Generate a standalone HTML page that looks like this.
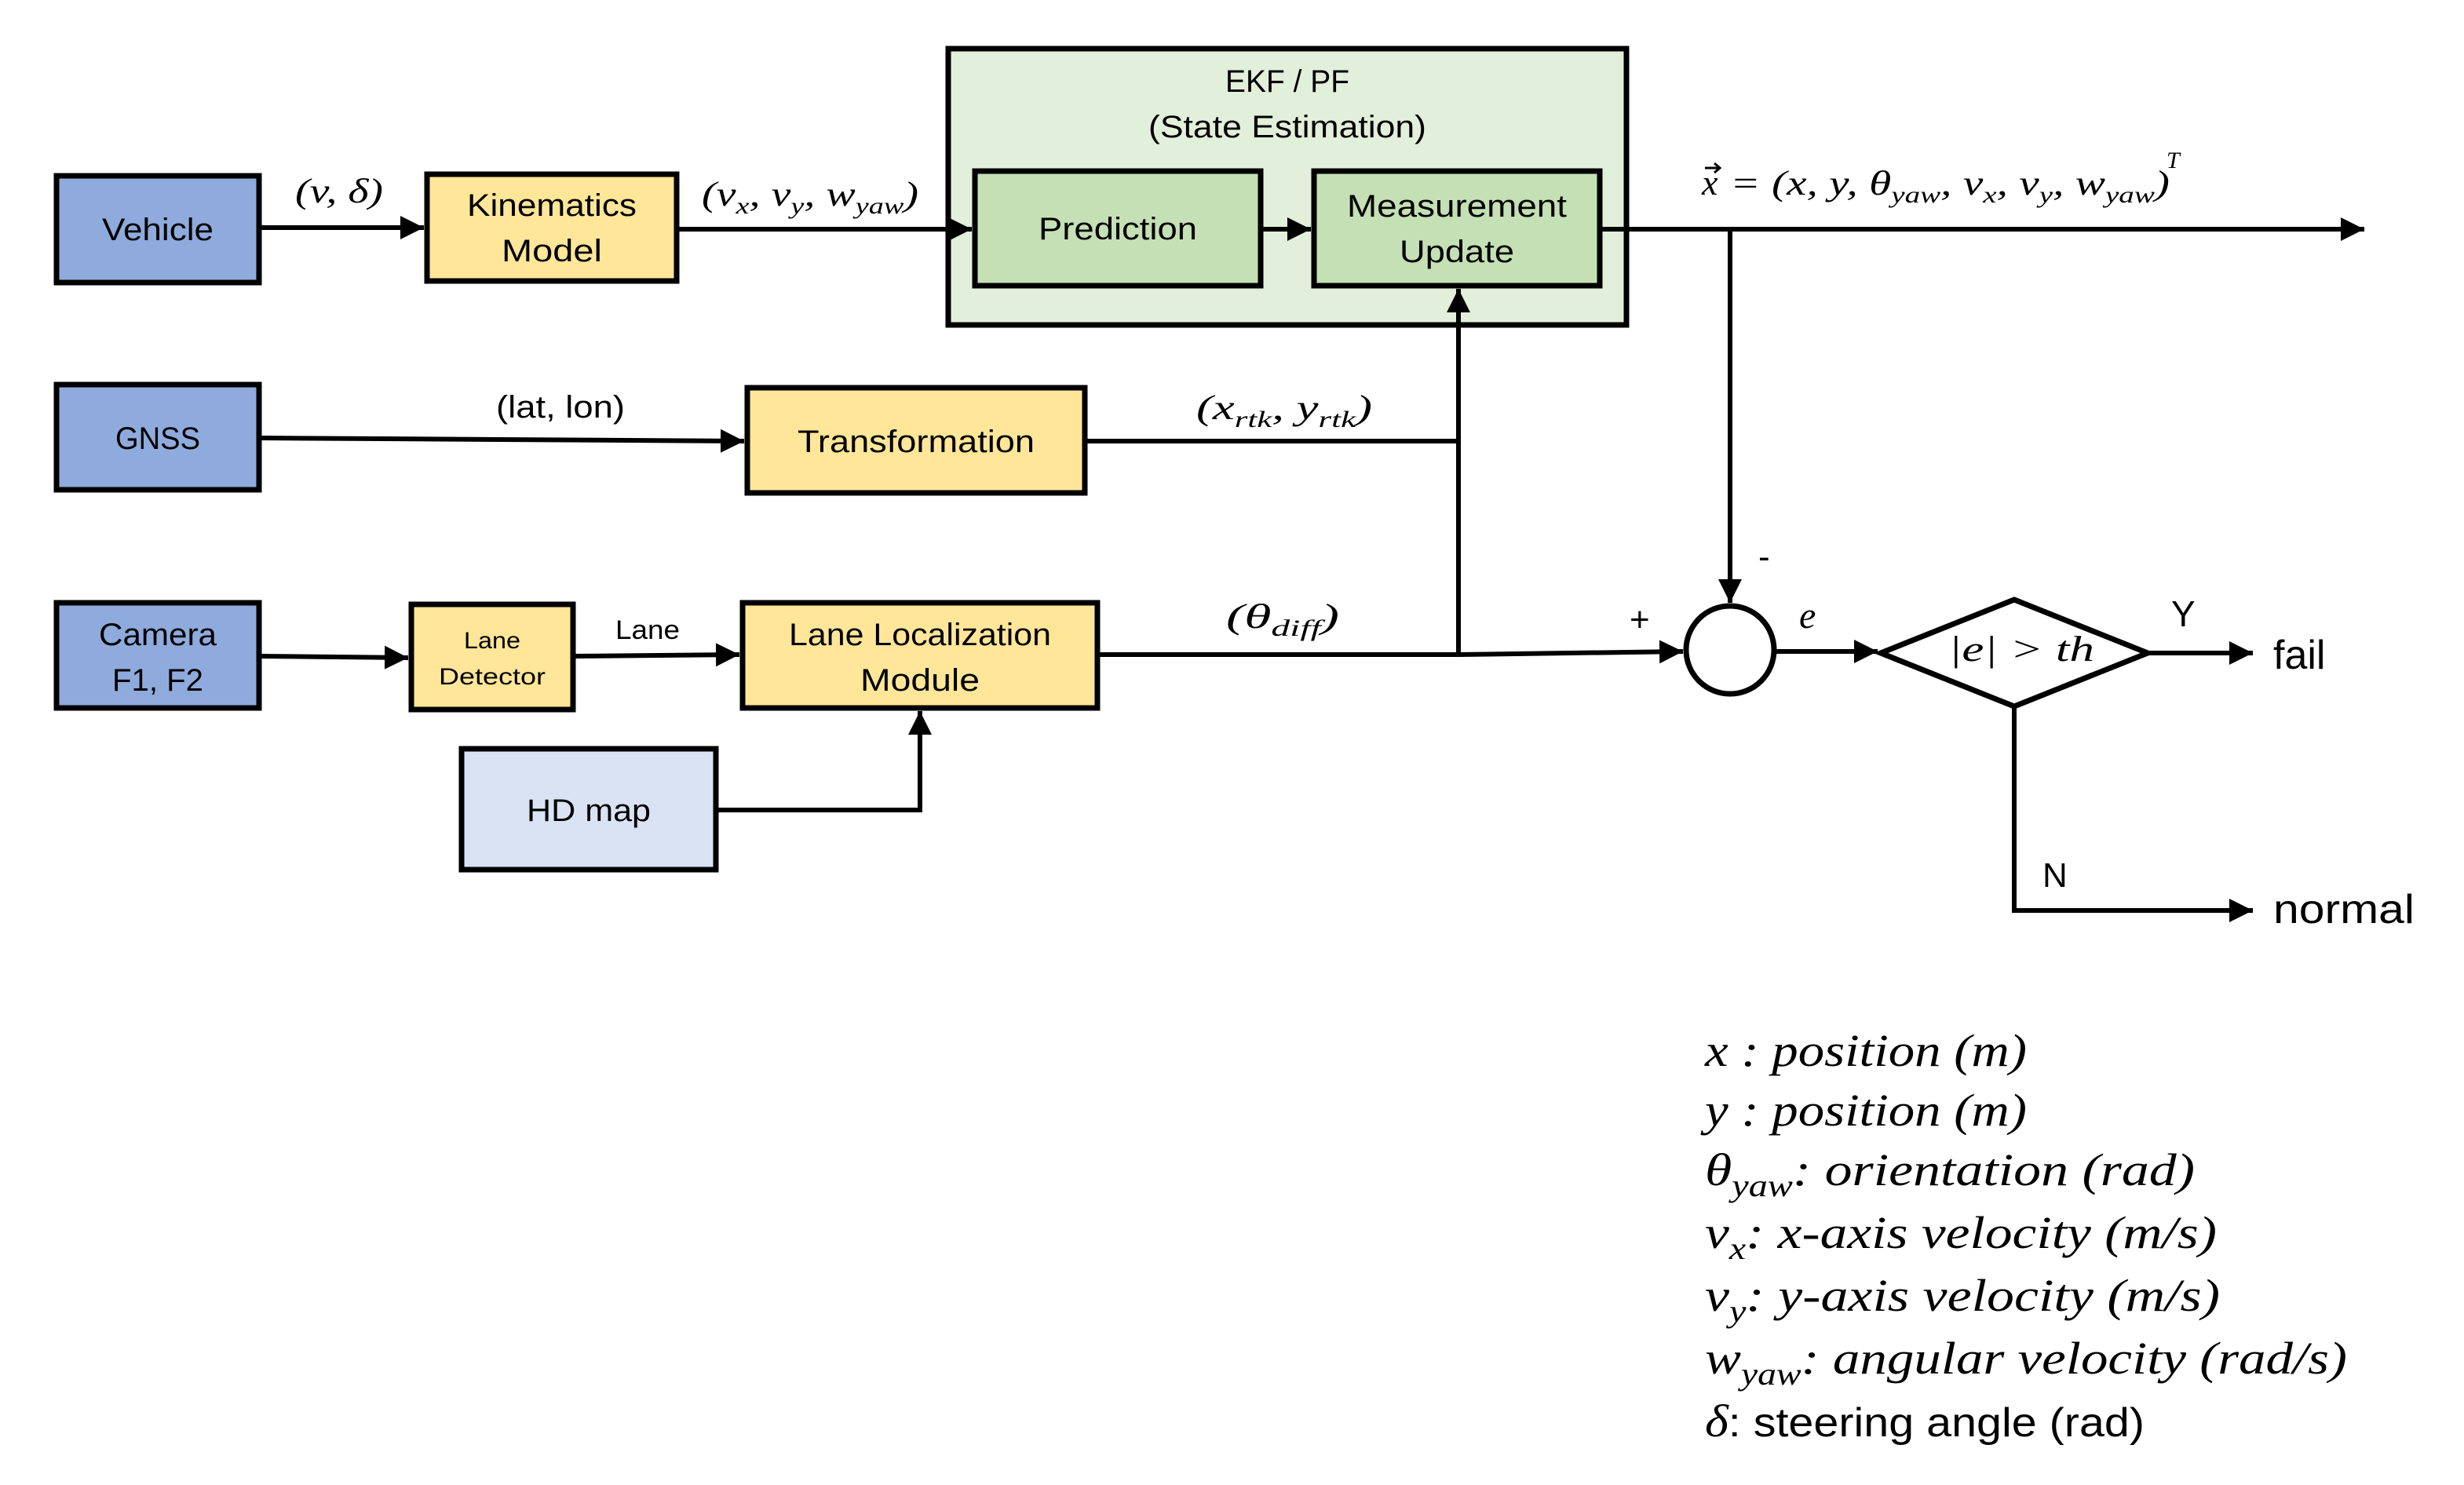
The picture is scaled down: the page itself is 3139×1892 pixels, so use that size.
<!DOCTYPE html>
<html><head><meta charset="utf-8"><style>html,body{margin:0;padding:0;background:#fff}svg{display:block}</style></head>
<body>
<svg width="3139" height="1892" viewBox="0 0 3139 1892" xmlns="http://www.w3.org/2000/svg">
<defs>
<marker id="ah" markerWidth="6" markerHeight="6" refX="5" refY="3" orient="auto" markerUnits="strokeWidth">
<path d="M0,0.5 L5,3 L0,5.5 z" fill="#000"/></marker>
</defs>
<g font-family="Liberation Sans, sans-serif" fill="#000">
<g stroke="#000" stroke-width="7">
<rect x="72" y="224" width="258" height="136" fill="#8faadc"/>
<rect x="544" y="222" width="318" height="136" fill="#ffe699"/>
<rect x="1208" y="62" width="864" height="352" fill="#e2efda"/>
<rect x="1242" y="218" width="364" height="146" fill="#c5e0b4"/>
<rect x="1674" y="218" width="364" height="146" fill="#c5e0b4"/>
<rect x="72" y="490" width="258" height="134" fill="#8faadc"/>
<rect x="952" y="494" width="430" height="134" fill="#ffe699"/>
<rect x="72" y="768" width="258" height="134" fill="#8faadc"/>
<rect x="524" y="770" width="206" height="134" fill="#ffe699"/>
<rect x="946" y="768" width="452" height="134" fill="#ffe699"/>
<rect x="588" y="954" width="324" height="154" fill="#dae3f3"/>
<circle cx="2204" cy="828" r="56" fill="#fff"/>
<polygon points="2396,832 2566,764 2736,832 2566,900" fill="#fff"/>
</g>
<g stroke="#000" stroke-width="6" fill="none">
<line x1="330" y1="290" x2="540" y2="290" marker-end="url(#ah)"/>
<line x1="862" y1="292" x2="1238" y2="292" marker-end="url(#ah)"/>
<line x1="1606" y1="292" x2="1670" y2="292" marker-end="url(#ah)"/>
<line x1="2038" y1="292" x2="3012" y2="292" marker-end="url(#ah)"/>
<line x1="2204" y1="292" x2="2204" y2="768" marker-end="url(#ah)"/>
<line x1="330" y1="558" x2="948" y2="562" marker-end="url(#ah)"/>
<line x1="1382" y1="562" x2="1858" y2="562"/>
<line x1="1858" y1="834" x2="1858" y2="368" marker-end="url(#ah)"/>
<line x1="330" y1="836" x2="520" y2="838" marker-end="url(#ah)"/>
<line x1="730" y1="836" x2="942" y2="834" marker-end="url(#ah)"/>
<polyline points="1398,834 1858,834 2144,830" marker-end="url(#ah)"/>
<line x1="2260" y1="830" x2="2392" y2="830" marker-end="url(#ah)"/>
<line x1="2736" y1="832" x2="2870" y2="832" marker-end="url(#ah)"/>
<polyline points="2566,900 2566,1160 2870,1160" marker-end="url(#ah)"/>
<polyline points="912,1032 1172,1032 1172,906" marker-end="url(#ah)"/>
</g>
<g font-size="40" text-anchor="middle">
<text x="201" y="306" textLength="142" lengthAdjust="spacingAndGlyphs">Vehicle</text>
<text x="703" y="275" textLength="216" lengthAdjust="spacingAndGlyphs">Kinematics</text>
<text x="703" y="333" textLength="128" lengthAdjust="spacingAndGlyphs">Model</text>
<text x="1640" y="117" textLength="158" lengthAdjust="spacingAndGlyphs">EKF / PF</text>
<text x="1640" y="175" textLength="354" lengthAdjust="spacingAndGlyphs">(State Estimation)</text>
<text x="1424" y="305" textLength="202" lengthAdjust="spacingAndGlyphs">Prediction</text>
<text x="1856" y="276" textLength="280" lengthAdjust="spacingAndGlyphs">Measurement</text>
<text x="1856" y="334" textLength="146" lengthAdjust="spacingAndGlyphs">Update</text>
<text x="201" y="572" textLength="108" lengthAdjust="spacingAndGlyphs">GNSS</text>
<text x="1167" y="576" textLength="302" lengthAdjust="spacingAndGlyphs">Transformation</text>
<text x="201" y="822" textLength="150" lengthAdjust="spacingAndGlyphs">Camera</text>
<text x="201" y="880" textLength="116" lengthAdjust="spacingAndGlyphs">F1, F2</text>
<text x="1172" y="822" textLength="334" lengthAdjust="spacingAndGlyphs">Lane Localization</text>
<text x="1172" y="880" textLength="152" lengthAdjust="spacingAndGlyphs">Module</text>
<text x="750" y="1046" textLength="158" lengthAdjust="spacingAndGlyphs">HD map</text>
<text x="627" y="826" font-size="30" textLength="72" lengthAdjust="spacingAndGlyphs">Lane</text>
<text x="627" y="872" font-size="30" textLength="136" lengthAdjust="spacingAndGlyphs">Detector</text>
</g>
<g font-size="40">
<text x="632" y="532" textLength="164" lengthAdjust="spacingAndGlyphs">(lat, lon)</text>
<text x="784" y="814" font-size="34" textLength="82" lengthAdjust="spacingAndGlyphs">Lane</text>
<text x="2766" y="798" font-size="46">Y</text>
<text x="2602" y="1130" font-size="44">N</text>
<text x="2896" y="852" font-size="52">fail</text>
<text x="2896" y="1176" font-size="52" textLength="180" lengthAdjust="spacingAndGlyphs">normal</text>
<text x="2076" y="804" font-size="44">+</text>
<text x="2240" y="724" font-size="44">-</text>
</g>
<g font-family="Liberation Serif, serif" font-style="italic" font-size="44">
<text x="376" y="258" textLength="112" lengthAdjust="spacingAndGlyphs">(v, δ)</text>
<text x="894" y="262" textLength="276" lengthAdjust="spacingAndGlyphs">(v<tspan font-size="30" dy="10">x</tspan><tspan dy="-10">, v</tspan><tspan font-size="30" dy="10">y</tspan><tspan dy="-10">, w</tspan><tspan font-size="30" dy="10">yaw</tspan><tspan dy="-10">)</tspan></text>
<text x="1524" y="534" textLength="224" lengthAdjust="spacingAndGlyphs">(x<tspan font-size="30" dy="10">rtk</tspan><tspan dy="-10">, y</tspan><tspan font-size="30" dy="10">rtk</tspan><tspan dy="-10">)</tspan></text>
<text x="1562" y="800" textLength="144" lengthAdjust="spacingAndGlyphs">(θ<tspan font-size="30" dy="10">diff</tspan><tspan dy="-10">)</tspan></text>
<text x="2292" y="800" font-size="48">e</text>
<text x="2482" y="842" font-size="46" textLength="186" lengthAdjust="spacingAndGlyphs">|e| &gt; th</text>
<text x="2168" y="248" font-size="46">x</text>
<text x="2204" y="248" textLength="560" lengthAdjust="spacingAndGlyphs">= (x, y, θ<tspan font-size="30" dy="10">yaw</tspan><tspan dy="-10">, v</tspan><tspan font-size="30" dy="10">x</tspan><tspan dy="-10">, v</tspan><tspan font-size="30" dy="10">y</tspan><tspan dy="-10">, w</tspan><tspan font-size="30" dy="10">yaw</tspan><tspan dy="-10">)</tspan></text>
<text x="2760" y="214" font-size="30">T</text>
</g>
<path d="M2172,214 L2190,214 M2184,208 L2191,214 L2184,220" stroke="#000" stroke-width="3" fill="none"/>
<g font-family="Liberation Serif, serif" font-style="italic" font-size="58">
<text x="2172" y="1358" textLength="410" lengthAdjust="spacingAndGlyphs">x : position (m)</text>
<text x="2172" y="1434" textLength="410" lengthAdjust="spacingAndGlyphs">y : position (m)</text>
<text x="2172" y="1510" textLength="624" lengthAdjust="spacingAndGlyphs">θ<tspan font-size="40" dy="14">yaw</tspan><tspan dy="-14">: orientation (rad)</tspan></text>
<text x="2172" y="1590" textLength="652" lengthAdjust="spacingAndGlyphs">v<tspan font-size="40" dy="14">x</tspan><tspan dy="-14">: x-axis velocity (m/s)</tspan></text>
<text x="2172" y="1670" textLength="656" lengthAdjust="spacingAndGlyphs">v<tspan font-size="40" dy="14">y</tspan><tspan dy="-14">: y-axis velocity (m/s)</tspan></text>
<text x="2172" y="1750" textLength="818" lengthAdjust="spacingAndGlyphs">w<tspan font-size="40" dy="14">yaw</tspan><tspan dy="-14">: angular velocity (rad/s)</tspan></text>
<text x="2172" y="1830" textLength="560" lengthAdjust="spacingAndGlyphs">δ<tspan font-style="normal" font-family="Liberation Sans, sans-serif" font-size="52">: steering angle (rad)</tspan></text>
</g>
</g>
</svg>
</body></html>
